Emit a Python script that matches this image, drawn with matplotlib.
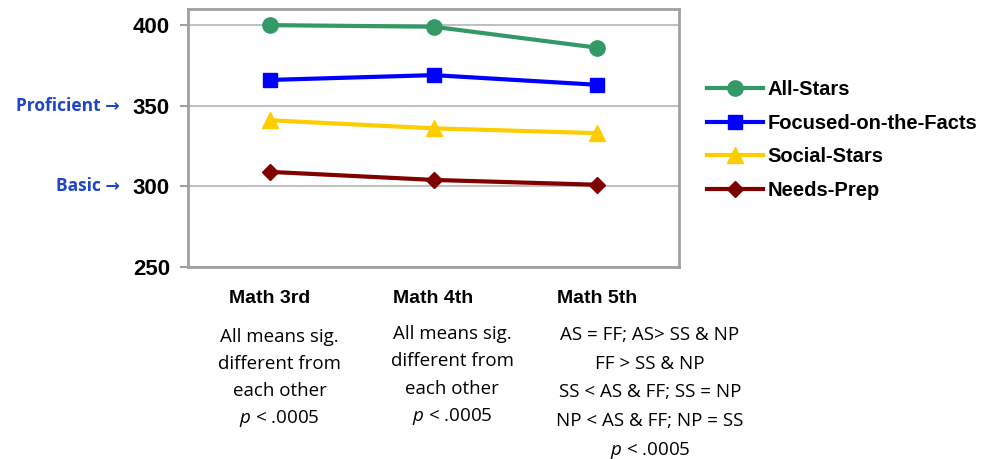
import numpy as np
import matplotlib
matplotlib.use("Agg")
import matplotlib.pyplot as plt

# grade levels and group means
grades = ["Math 3rd", "Math 4th", "Math 5th"]
all_stars = [400, 399, 386]
focused = [366, 369, 363]
social_stars = [341, 336, 333]
needs_prep = [309, 304, 301]

notes = [
    ["All means sig.", "different from", "each other", "$p$ < .0005"],
    ["All means sig.", "different from", "each other", "$p$ < .0005"],
    ["AS = FF; AS> SS & NP", "FF > SS & NP", "SS < AS & FF; SS = NP",
     "NP < AS & FF; NP = SS", "$p$ < .0005"],
]

levels = [350, 300]
level_names = ["Proficient \u2192", "Basic \u2192"]

# text box placement for the notes (points)
note_dx = [7, 13.5, 38]
note_top = [-54, -52, -52.5]
note_step = [19.4, 19.6, 20.7]

plt.rcParams['font.family'] = ['Liberation Sans', 'DejaVu Sans']
plt.rcParams['mathtext.fontset'] = 'custom'
plt.rcParams['mathtext.it'] = 'Open Sans:italic'
plt.rcParams['mathtext.rm'] = 'Open Sans'

fig = plt.figure(figsize=(9.86, 4.59), dpi=100)
ax = fig.add_axes([188 / 986, 1 - 267 / 459, 491 / 986, 258 / 459])

x = np.arange(len(grades))
ax.plot(x, all_stars, color="#339966", lw=3, marker="o", ms=11, label="All-Stars")
ax.plot(x, focused, color="#0000FF", lw=3, marker="s", ms=10, label="Focused-on-the-Facts")
ax.plot(x, social_stars, color="#FFCC00", lw=3, marker="^", ms=11, label="Social-Stars")
ax.plot(x, needs_prep, color="#800000", lw=3, marker="D", ms=8, label="Needs-Prep")

ax.set_xlim(-0.5, 2.5)
ax.set_ylim(250, 410)
ax.set_yticks([250, 300, 350, 400])
ax.yaxis.grid(True, color="#C0C0C0", lw=1.5)
ax.set_axisbelow(True)
for s in ax.spines.values():
    s.set_color("#A0A0A0")
    s.set_linewidth(2)
ax.tick_params(axis="y", length=6, width=1.5, color="#A0A0A0", labelsize=16, pad=7)
for lab in ax.get_yticklabels():
    lab.set_fontweight("bold")
ax.set_xticks([])

# category names and significance notes under the axis
for i, g in enumerate(grades):
    ax.annotate(g, xy=(i, 0), xycoords=("data", "axes fraction"),
                xytext=(0, -23), textcoords="offset points",
                ha="center", va="center", fontsize=14, fontweight="bold")
    for k, line in enumerate(notes[i]):
        ax.annotate(line, xy=(i, 0), xycoords=("data", "axes fraction"),
                    xytext=(note_dx[i], note_top[i] - k * note_step[i]),
                    textcoords="offset points",
                    ha="center", va="baseline", fontsize=13.5,
                    family=['Open Sans', 'DejaVu Sans'])

# achievement level markers on the left
for lv, name in zip(levels, level_names):
    ax.annotate(name, xy=(0, lv), xycoords=("axes fraction", "data"),
                xytext=(-49, 0), textcoords="offset points",
                ha="right", va="center", fontsize=12.5, fontweight="bold",
                color="#1F45C8", family=['Open Sans', 'DejaVu Sans'])

ax.legend(loc="center left", bbox_to_anchor=(1.02, 0.492), frameon=False,
          prop={"weight": "bold", "size": 14.5}, handlelength=2.8,
          handletextpad=0.2, labelspacing=0.72)

fig.savefig("out.png", dpi=100)
